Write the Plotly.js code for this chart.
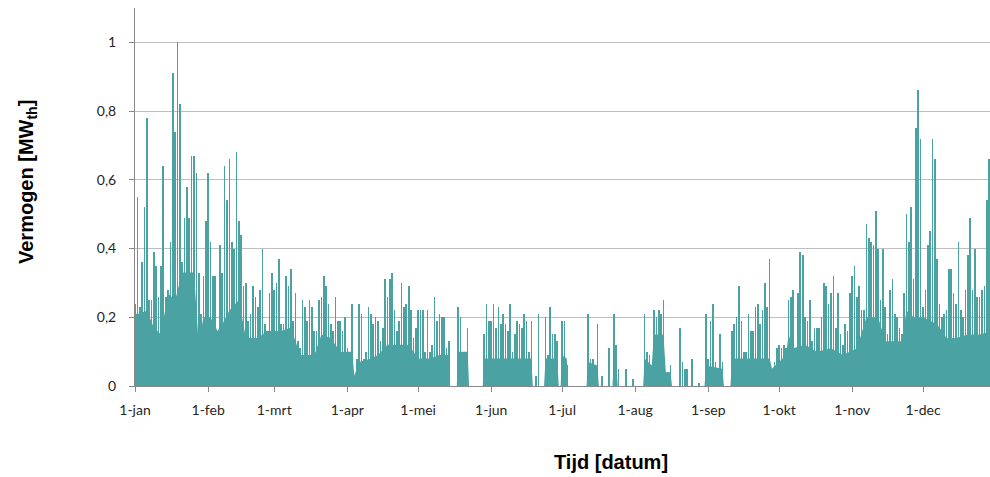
<!DOCTYPE html>
<html>
<head>
<meta charset="utf-8">
<script src="https://cdn.plot.ly/plotly-3.0.1.min.js"></script>
<style>html,body{margin:0;padding:0;background:#fff;}#chart{width:990px;height:477px;}</style>
</head>
<body>
<div id="chart"></div>
<script>
// Month tick positions (day of year) and Dutch labels
const monthStartDay = [0, 31, 59, 90, 120, 151, 181, 212, 243, 273, 304, 334];
const monthLabels = ['1-jan', '1-feb', '1-mrt', '1-apr', '1-mei', '1-jun', '1-jul', '1-aug', '1-sep', '1-okt', '1-nov', '1-dec'];

// Daily peak power [MWth] per month
const jan = [0.24,0.55,0.23,0.36,0.52,0.78,0.25,0.25,0.39,0.35,0.26,0.35,0.64,0.26,0.28,0.42,0.91,0.74,1.0,0.82,0.36,0.49,0.58,0.49,0.67,0.67,0.62,0.33,0.21,0.32,0.48];
const feb = [0.62,0.42,0.32,0.32,0.16,0.41,0.33,0.64,0.54,0.66,0.42,0.40,0.68,0.48,0.44,0.29,0.30,0.19,0.21,0.29,0.26,0.23,0.28,0.40,0.18,0.16,0.27,0.33];
const mrt = [0.28,0.30,0.37,0.18,0.18,0.32,0.29,0.34,0.19,0.27,0.13,0.11,0.25,0.23,0.19,0.25,0.23,0.16,0.16,0.25,0.26,0.32,0.29,0.24,0.18,0.16,0.26,0.19,0.19,0.16,0.20];
const apr = [0.11,0.10,0.24,0,0.08,0.24,0.21,0.08,0.10,0.23,0.21,0.18,0.20,0.19,0.13,0.17,0.31,0.26,0.31,0.33,0.22,0.16,0.19,0.30,0.23,0.24,0.29,0.22,0.14,0.17];
const mei = [0.22,0.22,0.22,0.10,0.22,0.10,0.12,0.26,0.19,0.21,0.20,0.20,0.11,0.13,0,0,0,0.23,0.20,0.10,0.10,0.17,0,0,0,0,0,0,0.15,0.24,0.19];
const jun = [0.19,0.24,0.17,0.23,0.18,0.21,0.18,0.16,0.24,0.10,0.15,0.19,0.18,0.17,0.21,0.19,0.10,0.19,0,0.03,0.21,0,0,0.20,0.09,0.23,0.15,0.15,0.13,0];
const jul = [0.19,0.19,0.06,0,0,0,0,0,0,0,0,0.21,0.08,0.08,0.06,0.18,0,0.03,0,0,0.11,0,0.21,0.12,0.05,0,0,0.05,0,0,0.02];
const aug = [0,0,0,0,0.21,0.10,0.09,0.05,0.22,0.20,0.22,0.21,0.25,0.03,0.04,0.06,0,0,0,0.17,0.07,0.05,0.05,0,0.08,0,0,0.01,0,0,0.21];
const sep = [0.08,0.19,0.24,0.07,0.02,0.15,0.07,0,0,0,0.16,0.18,0.20,0.29,0.19,0.10,0.10,0.21,0.16,0.16,0.23,0.24,0.18,0.22,0.30,0.23,0.37,0.05,0.07,0.11];
const okt = [0.12,0.11,0.12,0.11,0.25,0.26,0.28,0.11,0.27,0.39,0.38,0.20,0.19,0.25,0.13,0.17,0.17,0.17,0.20,0.30,0.29,0.24,0.27,0.32,0.17,0.27,0.15,0.12,0.18,0.16,0.27];
const nov = [0.32,0.35,0.26,0.29,0.22,0.22,0.47,0.43,0.42,0.41,0.51,0.40,0.25,0.40,0.23,0.15,0.28,0.31,0.21,0.20,0.17,0.15,0.27,0.50,0.42,0.52,0.31,0.75,0.86,0.72];
const dec = [0.23,0.28,0.41,0.45,0.72,0.66,0.37,0.24,0.20,0.21,0.22,0.34,0.34,0.27,0.24,0.42,0.22,0.20,0.28,0.38,0.49,0.28,0.40,0.26,0.26,0.28,0.29,0.54,0.66,0.36];

// Base (continuous) load: day of year and level [MWth] of the solid lower mass
const baseDay = [0,2,5,8,11,14,17,20,25,27,29,32,35,37,40,44,47,52,56,62,66,70,76,79,83,87,92,93,95,100,103,107,116,120,125,129,133,133.6,136.4,137,141,141.6,147.4,148,168,168.6,173.4,174,179,179.6,180.4,181,183,183.6,191.4,192,196,196.6,202.4,203,204,204.6,215.4,216,219,220,224,225,227,227.6,241.4,242,249,249.6,252.4,253,269,270,276,277,279,284,289,295,300,306,310,315,318,325,327,330,334,340,344,348,353,358,363];
const baseLevel = [0.21,0.21,0.22,0.17,0.15,0.27,0.25,0.33,0.33,0.12,0.2,0.2,0.16,0.18,0.22,0.25,0.14,0.14,0.16,0.16,0.17,0.09,0.09,0.15,0.14,0.1,0.1,0.03,0.07,0.08,0.09,0.12,0.12,0.08,0.08,0.09,0.09,0,0,0.1,0.1,0,0,0.08,0.08,0,0,0.08,0.08,0,0,0.09,0.08,0,0,0.07,0.06,0,0,0.1,0.08,0,0,0.08,0.06,0.15,0.15,0.04,0.04,0,0,0.06,0.05,0,0,0.08,0.08,0.05,0.09,0.15,0.11,0.12,0.1,0.11,0.09,0.11,0.2,0.2,0.13,0.13,0.22,0.2,0.2,0.18,0.14,0.14,0.15,0.15,0.16];

const peaks = [].concat(jan, feb, mrt, apr, mei, jun, jul, aug, sep, okt, nov, dec);
const days = peaks.map((_, i) => i);

const teal = '#4AA2A2';
const tickFont = 'Lato, "Open Sans", sans-serif';
const titleFont = '"Liberation Sans", Arial, sans-serif';

const traces = [
  {
    type: 'scatter', mode: 'lines',
    x: baseDay, y: baseLevel,
    line: {shape: 'linear', width: 0, color: teal},
    fill: 'tozeroy', fillcolor: teal, hoverinfo: 'skip'
  },
  {
    type: 'bar', x: days, y: peaks, width: 0.7,
    marker: {color: teal, line: {width: 0}}
  }
];

const layout = {
  width: 990, height: 477,
  margin: {l: 135, r: 0, t: 8, b: 91},
  paper_bgcolor: '#fff', plot_bgcolor: '#fff',
  showlegend: false,
  separators: ', ',
  font: {family: tickFont, size: 14, color: '#404040'},
  xaxis: {
    range: [0, 362.4],
    tickmode: 'array', tickvals: monthStartDay, ticktext: monthLabels,
    ticks: 'outside', ticklen: 5, tickcolor: '#888', tickwidth: 1,
    showline: true, linecolor: '#888', linewidth: 1,
    showgrid: false, zeroline: false,
    ticklabelstandoff: 6,
    tickfont: {family: tickFont, size: 14, color: '#262626'}
  },
  yaxis: {
    range: [0, 1.1],
    tickmode: 'array', tickvals: [0, 0.2, 0.4, 0.6, 0.8, 1], ticktext: ['0', '0,2', '0,4', '0,6', '0,8', '1'],
    ticks: 'outside', ticklen: 5, tickcolor: '#888', tickwidth: 1,
    showline: true, linecolor: '#888', linewidth: 1,
    showgrid: true, gridcolor: '#BEBEBE', gridwidth: 1,
    zeroline: false,
    ticklabelstandoff: 10,
    tickfont: {family: tickFont, size: 14, color: '#262626'}
  },
  annotations: [
    {text: '<b>Vermogen [MW<sub>th</sub>]</b>', xref: 'paper', yref: 'paper',
     x: (27 - 135) / 855, y: (386 - 182) / 378, textangle: -90, showarrow: false,
     xanchor: 'center', yanchor: 'middle', font: {family: titleFont, size: 20, color: '#000'}},
    {text: '<b>Tijd [datum]</b>', xref: 'paper', yref: 'paper',
     x: (611 - 135) / 855, y: (386 - 462) / 378, showarrow: false,
     xanchor: 'center', yanchor: 'middle', font: {family: titleFont, size: 20, color: '#000'}}
  ],
  bargap: 0
};

Plotly.newPlot('chart', traces, layout, {displayModeBar: false, staticPlot: true});
</script>
</body>
</html>
